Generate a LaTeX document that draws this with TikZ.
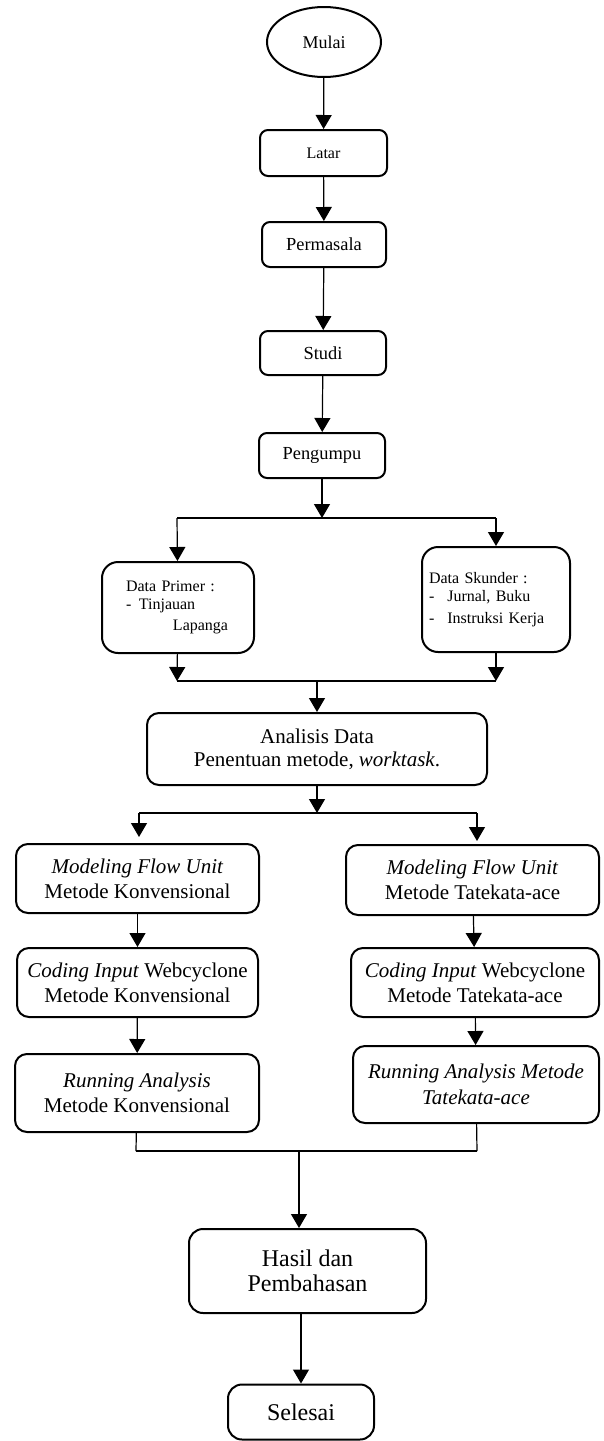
\documentclass[tikz,border=0pt]{standalone}
\usepackage{fontspec}
\setmainfont{Liberation Serif}
\usetikzlibrary{positioning}
\usetikzlibrary{shapes.geometric}
\usetikzlibrary{arrows.meta}

\begin{document}
\begin{tikzpicture}
[x=0.5pt,y=-0.5pt,
 box/.style={shape=rectangle,draw,line width=1pt,rounded corners=4pt,inner sep=0pt,align=center},
 smallbox/.style={box,font=\fontsize{9.2}{11}\selectfont},
 databox/.style={box,rounded corners=8pt,align=left,font=\fontsize{8}{9}\selectfont},
 stepbox/.style={box,rounded corners=6pt,font=\fontsize{10.5}{12.5}\selectfont},
 endbox/.style={box,rounded corners=7pt,font=\fontsize{12}{12.5}\selectfont},
 terminal/.style={shape=ellipse,draw,line width=1pt,inner sep=0pt,font=\fontsize{9}{11}\selectfont},
 flow/.style={line width=0.6pt,-{Triangle[width=8pt,length=7pt]}},
 joint/.style={line width=0.6pt}]

\useasboundingbox (0,0) rectangle (604,1441);

\draw (324,42) node (mulai) [terminal,minimum width=57pt,minimum height=35pt] {Mulai};
\draw (323.5,153) node (latar) [smallbox,font=\fontsize{8}{10}\selectfont,
	minimum width=63.5pt,minimum height=23pt] {Latar};
\draw (324,244.5) node (permasala) [smallbox,minimum width=62pt,minimum height=22.5pt] {Permasala};
\draw (323,353) node (studi) [smallbox,minimum width=63pt,minimum height=22pt] {Studi};
\draw (322,455.5) node (pengumpu) [smallbox,minimum width=63pt,minimum height=22.5pt] {Pengumpu};

\draw (178,607.5) node (primer) [databox,inner xsep=12pt,text width=52pt,minimum height=45.5pt]
	{Data Primer :\\-\hspace{3.8pt}Tinjauan\\[1.5pt]\hspace{23.5pt}Lapanga};
\draw (496,599.5) node (skunder) [databox,inner xsep=3.5pt,text width=67pt,minimum height=52.5pt]
	{Data Skunder :\\-\hspace{6.5pt}Jurnal, Buku\\[2pt]-\hspace{6.5pt}Instruksi Kerja};

\draw (317,749) node (analisis) [stepbox,font=\fontsize{10.5}{11.5}\selectfont,
	minimum width=170pt,minimum height=36pt] {Analisis Data\\Penentuan metode, \textit{worktask}.};

\draw (137.5,878.5) node (mfkonv) [stepbox,minimum width=121.5pt,minimum height=34.5pt]
	{\textit{Modeling Flow Unit}\\Metode Konvensional};
\draw (137.5,982.5) node (cikonv) [stepbox,minimum width=120.5pt,minimum height=34.5pt]
	{\textit{Coding Input} Webcyclone\\Metode Konvensional};
\draw (137,1093) node (rakonv) [stepbox,minimum width=122pt,minimum height=39pt]
	{\textit{Running Analysis}\\Metode Konvensional};

\draw (472.5,880) node (mftate) [stepbox,minimum width=126.5pt,minimum height=35pt]
	{\textit{Modeling Flow Unit}\\Metode Tatekata-ace};
\draw (475,982.5) node (citate) [stepbox,minimum width=124pt,minimum height=34.5pt]
	{\textit{Coding Input} Webcyclone\\Metode Tatekata-ace};
\draw (476,1084.5) node (ratate) [stepbox,font=\fontsize{10.5}{13}\selectfont,
	minimum width=123pt,minimum height=38.5pt]
	{\textit{Running Analysis Metode}\\\textit{Tatekata-ace}};

\draw (307.5,1271) node (hasil) [endbox,minimum width=118.5pt,minimum height=42pt]
	{Hasil dan\\Pembahasan};
\draw (301,1412) node (selesai) [endbox,minimum width=73pt,minimum height=27.5pt] {Selesai};

\coordinate (sp1) at (322,518);
\coordinate (sp1l) at (177,518);
\coordinate (sp1r) at (496,518);
\coordinate (jn1) at (317,681);
\coordinate (jn1l) at (177,681);
\coordinate (jn1r) at (496,681);
\coordinate (sp2) at (317,813);
\coordinate (sp2l) at (139,813);
\coordinate (sp2r) at (477,813);
\coordinate (jn2) at (299,1151);
\coordinate (jn2l) at (136,1151);
\coordinate (jn2r) at (477,1151);

\draw [flow] (mulai) -- (latar);
\draw [flow] (latar) -- (permasala);
\draw [flow] (permasala) -- (studi);
\draw [flow] (studi) -- (pengumpu);

\draw [flow] (pengumpu) -- (sp1);
\draw [joint] (sp1l) -- (sp1r);
\draw [flow] (sp1l) -- (primer);
\draw [flow] (sp1r) -- (skunder);
\draw [flow] (primer) -- (jn1l);
\draw [flow] (skunder) -- (jn1r);
\draw [joint] (jn1l) -- (jn1r);
\draw [flow] (jn1) -- (analisis);

\draw [flow] (analisis) -- (sp2);
\draw [joint] (sp2l) -- (sp2r);
\draw [flow,shorten >=3pt] (sp2l) -- (sp2l |- mfkonv.north);
\draw [flow,shorten >=1.5pt] (sp2r) -- (sp2r |- mftate.north);

\draw [flow] (mfkonv) -- (cikonv);
\draw [flow] (cikonv) -- (rakonv);
\draw [flow] (mftate) -- (citate);
\draw [flow] (citate) -- (ratate);

\draw [joint] (rakonv) -- (jn2l);
\draw [joint] (ratate) -- (jn2r);
\draw [joint] (jn2l) -- (jn2r);
\draw [flow] (jn2) -- (jn2 |- hasil.north);
\draw [flow] (hasil.south -| selesai) -- (selesai);
\end{tikzpicture}
\end{document}
